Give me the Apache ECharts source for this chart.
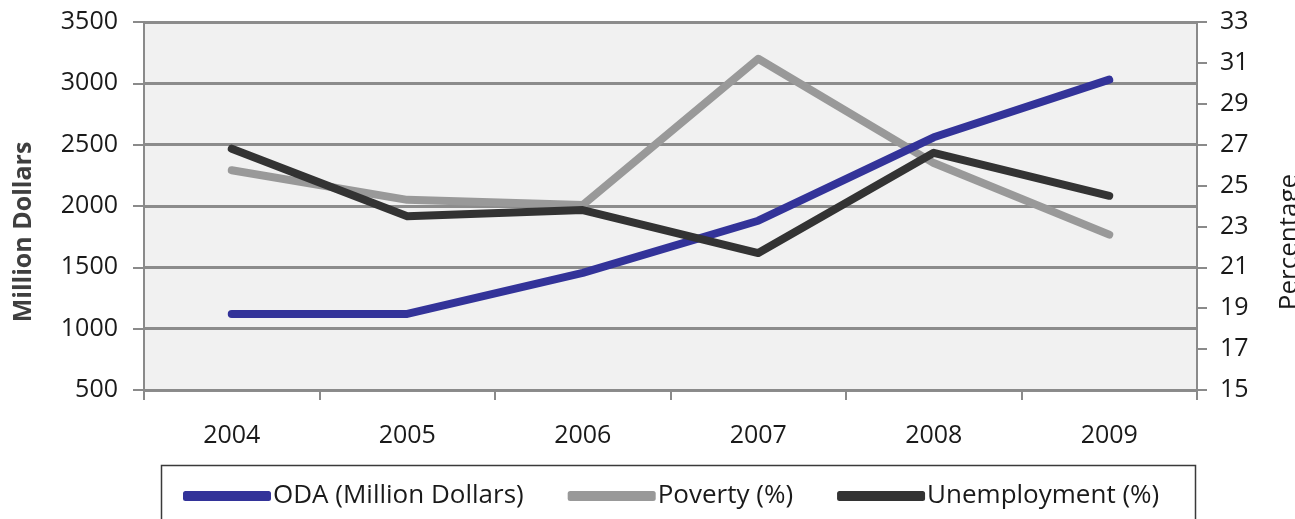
<!DOCTYPE html>
<html>
<head>
<meta charset="utf-8">
<script src="https://cdn.jsdelivr.net/npm/echarts@6/dist/echarts.min.js"></script>
<style>html,body{margin:0;padding:0;background:#fff}#c{width:1295px;height:519px}</style>
</head>
<body>
<div id="c"></div>
<script>
const years = ['2004','2005','2006','2007','2008','2009'];
const oda = [1120, 1120, 1455, 1880, 2560, 3030];
const poverty = [25.75, 24.3, 24.05, 31.2, 26.1, 22.6];
const unemployment = [26.8, 23.5, 23.8, 21.7, 26.6, 24.5];
const leftTicks = {min: 500, max: 3500, interval: 500};
const rightTicks = {min: 15, max: 33, interval: 2};

const FONT = '"Open Sans", "Noto Sans", sans-serif';
const chart = echarts.init(document.getElementById('c'), null, {renderer: 'canvas'});
const lineStyle = (c) => ({color: c, width: 8, cap: 'round', join: 'round'});
chart.setOption({
  animation: false,
  textStyle: {fontFamily: FONT},
  grid: {left: 144, right: 98, top: 22, bottom: 129, show: true, backgroundColor: '#f1f1f1', borderWidth: 0,
         containLabel: false, outerBoundsMode: 'none'},
  graphic: [{
    type: 'rect', left: 159, top: 463, shape: {width: 1034, height: 70},
    style: {fill: 'none', stroke: '#3a3a3a', lineWidth: 1.5}, z: -1
  }],
  legend: {
    left: 178, top: 478,
    itemWidth: 88, itemHeight: 10, itemGap: 44,
    icon: 'roundRect',
    textStyle: {fontFamily: FONT, fontSize: 26, color: '#1a1a1a', padding: [0,0,0,-3]},
    data: ['ODA (Million Dollars)', 'Poverty (%)', 'Unemployment (%)']
  },
  xAxis: {
    type: 'category', data: years, boundaryGap: true,
    axisLine: {lineStyle: {color: '#8a8a8a', width: 2}},
    axisTick: {show: true, length: 10, lineStyle: {color: '#8a8a8a', width: 2}},
    axisLabel: {margin: 33, fontSize: 25, color: '#1a1a1a', fontFamily: FONT},
    splitLine: {show: false}
  },
  yAxis: [{
    type: 'value', position: 'left', min: leftTicks.min, max: leftTicks.max, interval: leftTicks.interval,
    name: 'Million Dollars', nameLocation: 'middle', nameRotate: 90, nameGap: 108,
    nameTextStyle: {fontSize: 25, fontWeight: 'bold', color: '#3f3f3f', fontFamily: FONT, padding: [0, 52, 0, 0]},
    axisLine: {show: true, lineStyle: {color: '#8a8a8a', width: 2}},
    axisTick: {show: true, length: 11, lineStyle: {color: '#8a8a8a', width: 2}},
    axisLabel: {margin: 26, fontSize: 25, color: '#1a1a1a', fontFamily: FONT, formatter: (v) => String(v)},
    splitLine: {show: true, lineStyle: {color: '#8c8c8c', width: 3}}
  }, {
    type: 'value', position: 'right', min: rightTicks.min, max: rightTicks.max, interval: rightTicks.interval,
    name: 'Percentage', nameLocation: 'middle', nameRotate: 90, nameGap: 80,
    nameTextStyle: {fontSize: 26, color: '#1a1a1a', fontFamily: FONT, padding: [0, 72, 0, 0]},
    axisLine: {show: true, lineStyle: {color: '#8a8a8a', width: 2}},
    axisTick: {show: true, length: 10, lineStyle: {color: '#8a8a8a', width: 2}},
    axisLabel: {margin: 23, fontSize: 25, color: '#1a1a1a', fontFamily: FONT},
    splitLine: {show: false}
  }],
  series: [{
    name: 'ODA (Million Dollars)', type: 'line', yAxisIndex: 0, data: oda,
    symbol: 'none', color: '#333399', lineStyle: lineStyle('#333399'), z: 3
  }, {
    name: 'Poverty (%)', type: 'line', yAxisIndex: 1, data: poverty,
    symbol: 'none', color: '#999999', lineStyle: lineStyle('#999999'), z: 2
  }, {
    name: 'Unemployment (%)', type: 'line', yAxisIndex: 1, data: unemployment,
    symbol: 'none', color: '#333333', lineStyle: lineStyle('#333333'), z: 4
  }]
});
</script>
</body>
</html>
